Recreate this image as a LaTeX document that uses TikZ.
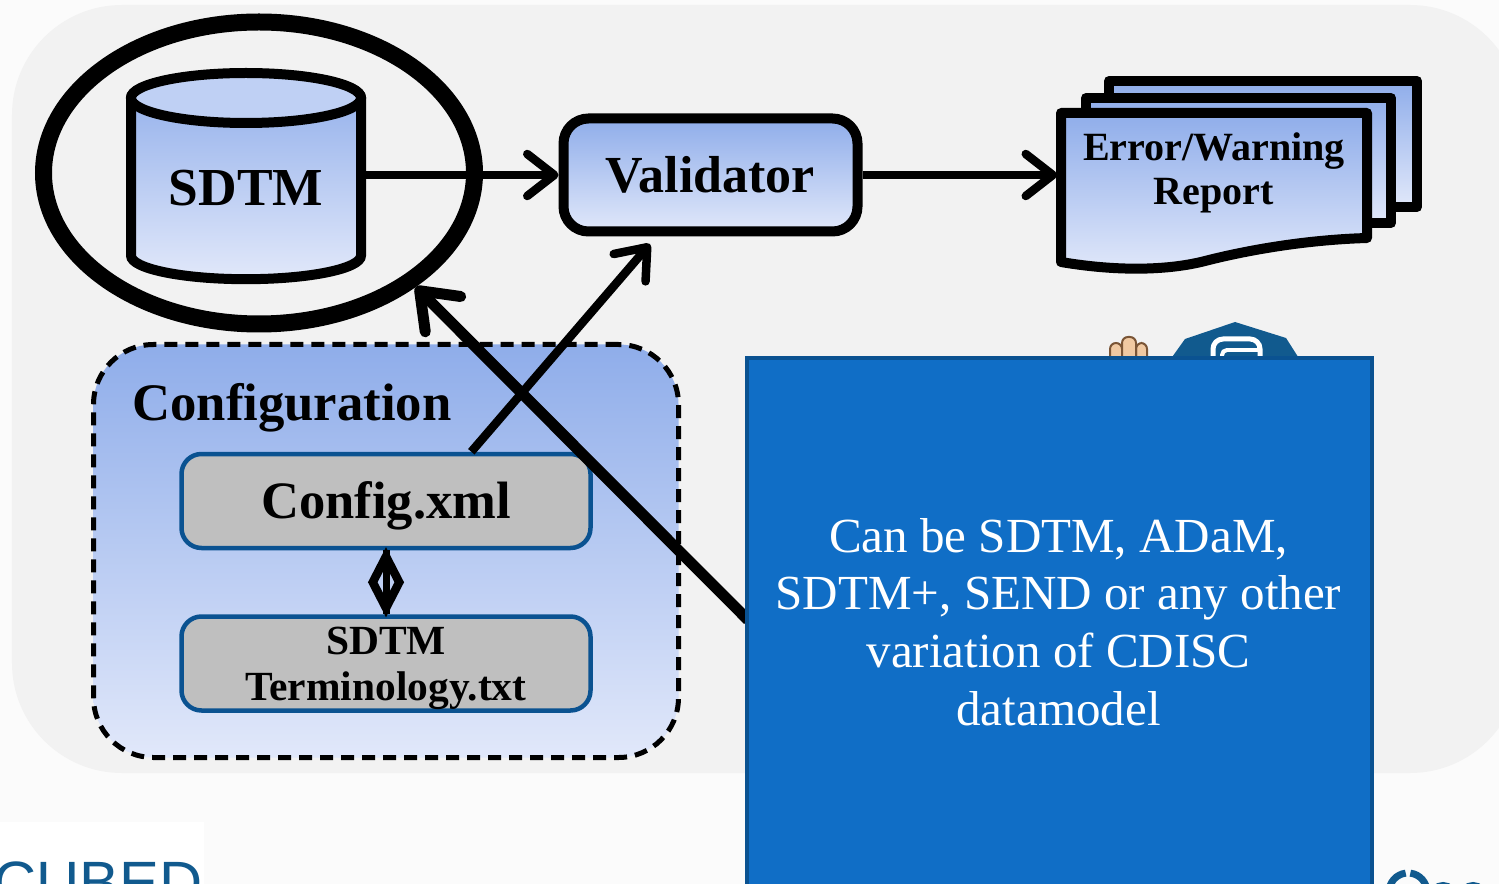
\documentclass[tikz,border=0pt]{standalone}
\usepackage{fontspec}
\setmainfont{Liberation Serif}
\setsansfont{Liberation Sans}
\usetikzlibrary{shapes.geometric,arrows.meta}
\definecolor{gradtop}{HTML}{8FADEA}
\definecolor{gradbot}{HTML}{E1E8FA}
\definecolor{captop}{HTML}{BFD0F4}
\definecolor{pagebg}{HTML}{FBFBFB}
\definecolor{panelbg}{HTML}{F2F2F2}
\definecolor{boxgrey}{HTML}{BFBFBF}
\definecolor{edgeblue}{HTML}{0A5291}
\definecolor{noteblue}{HTML}{106EC6}
\definecolor{logoblue}{HTML}{115A8E}
\definecolor{skin}{HTML}{F0C9A2}
\definecolor{skinedge}{HTML}{7A5536}
\newcommand{\setpx}[2]{\fontsize{#1}{#2}\selectfont}
\tikzset{
  grad/.style={top color=gradtop,bottom color=gradbot},
  thickbox/.style={draw,line width=0.1cm,rounded corners=0.25cm,grad,align=center,inner sep=0pt},
  filebox/.style={draw=edgeblue,line width=0.045cm,rounded corners=0.2cm,fill=boxgrey,
    minimum width=4.09cm,minimum height=0.94cm,inner sep=0pt,align=center},
  sheet/.style={draw,line width=0.1cm,line join=round,grad},
  flow/.style={line width=0.085cm,-{Straight Barb[round,length=0.27cm,width=0.42cm,line width=0.085cm]}},
  finger/.style={draw=skinedge,fill=skin,line width=0.02cm,rounded corners=0.06cm}
}
\begin{document}
\begin{tikzpicture}
  \useasboundingbox (0,0) rectangle (14.99,-8.84);
  \fill[pagebg] (0,0) rectangle (14.99,-8.84);
  \fill[panelbg,rounded corners=1.1cm] (0.12,-0.05) rectangle (15.2,-7.73);
  \fill[white] (0,-8.22) rectangle (2.04,-8.84);
  \node[anchor=base east,font=\sffamily\setpx{17pt}{20pt},text=logoblue,inner sep=0pt] (cubed) at (2.03,-9.03) {CUBED};
  \draw[logoblue,line width=0.07cm] (14.08,-8.92) ++(83:0.19) arc (83:0:0.19);
  \draw[logoblue,line width=0.07cm] (14.08,-8.92) ++(97:0.19) arc (97:180:0.19);
  \draw[logoblue,line width=0.06cm] (14.43,-8.97) circle (0.12);
  \draw[logoblue,line width=0.06cm] (14.73,-8.97) circle (0.12);
  % report stack
  \path[sheet] (11.09,-0.81) rectangle (14.17,-2.07);
  \path[sheet] (10.86,-0.98) rectangle (13.91,-2.23);
  \path[sheet] (10.61,-1.13) -- (13.67,-1.13) -- (13.67,-2.38)
    .. controls (13.0,-2.40) and (12.4,-2.52) .. (12.05,-2.61)
    .. controls (11.7,-2.70) and (11.2,-2.72) .. (10.61,-2.62) -- cycle;
  \node[align=center,font=\bfseries\setpx{11.4pt}{12.4pt}] (rpt) at (12.14,-1.73) {Error/Warning\\Report};
  \coordinate (rptin) at (10.57,-1.75);
  % panel below
  \node[draw,dashed,dash pattern=on 0.13cm off 0.08cm,line width=0.05cm,rounded corners=0.6cm,grad,
    minimum width=5.85cm,minimum height=4.13cm] (conf) at (3.86,-5.51) {};
  \node[font=\bfseries\setpx{15pt}{18pt},inner sep=0pt] (conftxt) at (2.92,-4.08) {Configuration};
  \node[filebox] (cfg) at (3.86,-5.01) {};
  \node[font=\bfseries\setpx{14.95pt}{17pt},inner sep=0pt] (cfgtxt) at (3.86,-5.06) {Config.xml};
  \node[filebox] (term) at (3.86,-6.635) {};
  \node[align=center,font=\bfseries\setpx{11.8pt}{13pt},inner sep=0pt] (termtxt) at (3.86,-6.68) {SDTM\\Terminology.txt};
  \draw[line width=0.07cm] (cfg) -- (term) node[midway,diamond,draw,line width=0.085cm,inner sep=0pt,
    minimum width=0.3cm,minimum height=0.55cm,aspect=0.55] (link) {};
  % top row
  \node[cylinder,shape border rotate=90,aspect=0.306,draw,line width=0.1cm,grad,
    minimum width=2.3cm,minimum height=2.05cm,inner sep=0pt,font=\bfseries\setpx{15.2pt}{18pt}] (sdtm) at (2.46,-1.91) {\phantom{SDTM}};
  \node[ellipse,draw,line width=0.1cm,fill=captop,minimum width=2.3cm,minimum height=0.5cm,inner sep=0pt] (cap) at (2.46,-0.98) {};
  \node[font=\bfseries\setpx{15.2pt}{18pt},inner sep=0pt] (sdtmtxt) at (2.46,-1.88) {SDTM};
  \node[ellipse,draw,line width=0.17cm,minimum width=4.31cm,minimum height=3.02cm,inner sep=0pt] (ring) at (2.59,-1.73) {};
  \node[thickbox,minimum width=2.94cm,minimum height=1.13cm,font=\bfseries\setpx{14.8pt}{18pt}] (val) at (7.105,-1.75) {Validator};
  \coordinate (valin) at (6.5,-2.44);
  \coordinate (tail) at (7.48,-6.2);
  \draw[flow] (sdtm.east |- val.west) -- (val);
  \draw[flow] (val) -- (rptin);
  \draw[flow] (cfg.30.6) -- (valin);
  \draw[line width=0.11cm,-{Straight Barb[round,length=0.33cm,width=0.5cm,line width=0.11cm]}] (tail) -- (ring.-36);
  % icons behind the note
  \draw[finger] (11.1,-3.7) -- (11.1,-3.43) -- (11.22,-3.43) -- (11.22,-3.7);
  \draw[finger] (11.36,-3.7) -- (11.36,-3.43) -- (11.47,-3.43) -- (11.47,-3.7);
  \draw[finger] (11.22,-3.7) -- (11.22,-3.37) -- (11.36,-3.37) -- (11.36,-3.7);
  \fill[logoblue] (11.7,-3.6) -- (11.85,-3.39) -- (12.35,-3.22) -- (12.86,-3.38) -- (13.0,-3.6) -- cycle;
  \draw[white,line width=0.05cm,rounded corners=0.1cm] (12.13,-3.6) -- (12.13,-3.39) -- (12.6,-3.39) -- (12.6,-3.6);
  \draw[white,line width=0.04cm,rounded corners=0.05cm] (12.6,-3.5) -- (12.22,-3.5) -- (12.22,-3.6);
  % note
  \node[draw=edgeblue,fill=noteblue,line width=0.04cm,anchor=north west,minimum width=6.25cm,minimum height=5.5cm] (note) at (7.45,-3.56) {};
  \node[align=center,text=white,font=\setpx{13.95pt}{16.4pt},inner sep=0pt] (notetxt) at (10.585,-6.22)
    {Can be SDTM, ADaM,\\SDTM+, SEND or any other\\variation of CDISC\\datamodel};
\end{tikzpicture}
\end{document}
